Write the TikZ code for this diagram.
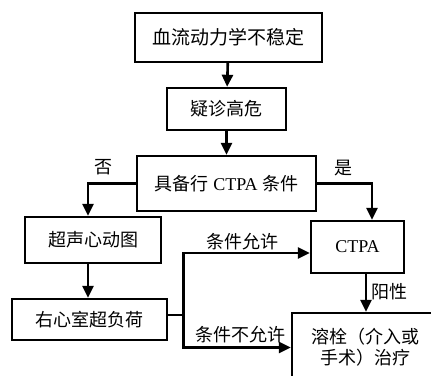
\documentclass[tikz,border=0pt]{standalone}
\usepackage{fontspec}
\setmainfont{Liberation Serif}
\newfontfamily\cjk{Noto Sans CJK SC}
\newcommand{\zh}[1]{{\cjk #1}}
\usepackage{tikz}
\usetikzlibrary{arrows.meta, positioning, calc}
\usepackage{xcolor}

\begin{document}
\begin{tikzpicture}[%
    x=1pt, y=-1pt,
    >={Triangle[length=12pt,width=11pt]},
    every node/.style={%
      font=\fontsize{18}{21}\selectfont,
      text=black,
      text centered,
      align=center
    },
    frame/.style={draw=black, line width=2.4pt, inner sep=2pt},
    conn/.style={draw=black, line width=2.6pt}
  ]

  \useasboundingbox (0,0) rectangle (431,375);
  \clip (0,0) rectangle (431,375);

  \node[frame, minimum width=187pt, minimum height=49pt, font=\fontsize{19}{21}\selectfont] (unstable) at (228.5,37.5) {\zh{血流动力学不稳定}};
  \node[frame, minimum width=119pt, minimum height=42pt] (risk) at (226.5,109) {\zh{疑诊高危}};
  \node[frame, minimum width=179pt, minimum height=55pt] (cond) at (226.5,183.5) {\zh{具备行} CTPA \zh{条件}};
  \node[frame, minimum width=136pt, minimum height=46pt] (echo) at (93,240) {\zh{超声心动图}};
  \node[frame, minimum width=93pt, minimum height=52pt] (ctpa) at (357.5,247) {CTPA};
  \node[frame, minimum width=155pt, minimum height=41pt] (rv) at (89.5,319.5) {\zh{右心室超负荷}};
  \node[frame, minimum width=146pt, minimum height=69pt] (lysis) at (365,347.5)
    {\zh{溶栓（介入或}\\\zh{手术）治疗}};

  % Main column
  \draw[conn, ->] (unstable) -- (risk);
  \draw[conn, ->] (risk) -- (cond);

  % Branches
  \draw[conn, ->] (cond.west) -| ([xshift=-5pt]echo.north);
  \draw[conn, ->] (cond.east) -| ([xshift=14.5pt]ctpa.north);
  \draw[conn, ->] ([xshift=-5pt]echo.south) -- ([xshift=-5pt]echo.south |- rv.north);
  \draw[conn] ([yshift=4.5pt]rv.east) -- ++(15,0) coordinate (fork);
  \draw[conn, ->] (fork) |- ([yshift=-6pt]ctpa.west);
  \draw[conn, ->] (fork) |- (lysis.west);
  \draw[conn, ->] ([xshift=8.5pt]ctpa.south) -- ([xshift=8.5pt]ctpa.south |- lysis.north);

  % Labels
  \node (no) at (103,167) {\zh{否}};
  \node (yes) at (343,168) {\zh{是}};
  \node (ok) at (242,242) {\zh{条件允许}};
  \node (notok) at (240,335) {\zh{条件不允许}};
  \node (pos) at (389,292) {\zh{阳性}};

\end{tikzpicture}
\end{document}
